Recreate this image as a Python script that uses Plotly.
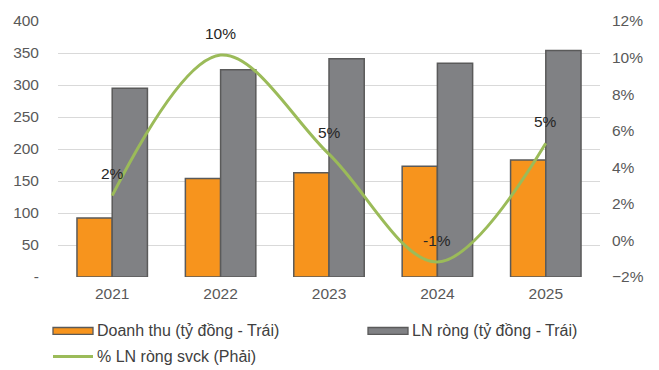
import plotly.graph_objects as go

# Chart data
years = ["2021", "2022", "2023", "2024", "2025"]
revenue = [92, 154, 163, 173, 183]          # Doanh thu (tỷ đồng)
net_profit = [295, 324, 341, 334, 354]      # LN ròng (tỷ đồng)
profit_growth = [0.0245, 0.1014, 0.0472, -0.0118, 0.0531]  # % LN ròng svck

left_ticks = [0, 50, 100, 150, 200, 250, 300, 350, 400]
left_ticktext = ["-" if v == 0 else str(v) for v in left_ticks]

FONT = "Liberation Sans, Arial, sans-serif"
ORANGE = "#F7941D"
GREY = "#808184"
EDGE = "#5A5A5A"
GREEN = "#9BBB59"
TXT = "#595959"
TICK_SIZE = 15.5

W, H = 659, 370
M_L, M_R, M_T, M_B = 58, 59, 16, 93
PW, PH = W - M_L - M_R, H - M_T - M_B


def px_x(p):
    return (p - M_L) / PW


def px_y(p):
    return (H - M_B - p) / PH


fig = go.Figure()
fig.add_trace(go.Bar(
    x=years, y=revenue, name="Doanh thu (tỷ đồng - Trái)",
    marker=dict(color=ORANGE, line=dict(color=EDGE, width=1.5)),
    showlegend=False,
))
fig.add_trace(go.Bar(
    x=years, y=net_profit, name="LN ròng (tỷ đồng - Trái)",
    marker=dict(color=GREY, line=dict(color=EDGE, width=1.5)),
    showlegend=False,
))
fig.add_trace(go.Scatter(
    x=years, y=profit_growth, yaxis="y2", mode="lines",
    name="% LN ròng svck (Phải)",
    line=dict(color=GREEN, width=3, shape="spline", smoothing=1.0),
    cliponaxis=False, showlegend=False,
))

# value labels above the growth line (category index as x position)
annotations = []
for i, v in enumerate(profit_growth):
    annotations.append(dict(
        x=i, y=v, xref="x", yref="y2", text=f"{v:.0%}",
        showarrow=False, yshift=22, yanchor="middle",
        font=dict(family=FONT, size=15.5, color="#262626"),
    ))

# legend drawn below the plot area
shapes = []
legend_items = [
    (53, 332, "bar", ORANGE, "Doanh thu (tỷ đồng - Trái)"),
    (368, 332, "bar", GREY, "LN ròng (tỷ đồng - Trái)"),
    (53, 358, "line", GREEN, "% LN ròng svck (Phải)"),
]
for x0, yc, kind, col, label in legend_items:
    if kind == "bar":
        shapes.append(dict(
            type="rect", xref="paper", yref="paper",
            x0=px_x(x0), x1=px_x(x0 + 40), y0=px_y(yc + 3.5), y1=px_y(yc - 3.5),
            fillcolor=col, line=dict(color=EDGE, width=1.3), layer="above",
        ))
    else:
        shapes.append(dict(
            type="line", xref="paper", yref="paper",
            x0=px_x(x0), x1=px_x(x0 + 40), y0=px_y(yc), y1=px_y(yc),
            line=dict(color=col, width=3), layer="above",
        ))
    annotations.append(dict(
        x=px_x(x0 + 42), y=px_y(yc), xref="paper", yref="paper",
        text=label, showarrow=False, xanchor="left", yanchor="middle",
        font=dict(family=FONT, size=16, color="#404040"),
    ))

fig.update_layout(
    width=W, height=H,
    margin=dict(l=M_L, r=M_R, t=M_T, b=M_B),
    paper_bgcolor="white", plot_bgcolor="white",
    barmode="group", bargap=0.35, bargroupgap=0,
    font=dict(family=FONT, size=TICK_SIZE, color=TXT),
    xaxis=dict(
        type="category", range=[-0.5, len(years) - 0.5],
        showgrid=False, showline=False, ticks="",
        tickfont=dict(family=FONT, size=TICK_SIZE, color=TXT),
        ticklabelstandoff=5,
    ),
    yaxis=dict(
        range=[0, 400], tickvals=left_ticks, ticktext=left_ticktext,
        showgrid=True, gridcolor="#D9D9D9", gridwidth=1.3,
        zeroline=False, showline=False, ticks="",
        tickfont=dict(family=FONT, size=TICK_SIZE, color=TXT),
        ticklabelstandoff=18,
    ),
    yaxis2=dict(
        overlaying="y", side="right", range=[-0.02, 0.12], dtick=0.02,
        tick0=0, tickformat=".0%", showgrid=False, zeroline=False,
        showline=False, ticks="",
        tickfont=dict(family=FONT, size=TICK_SIZE, color=TXT),
        ticklabelstandoff=11,
    ),
    annotations=annotations,
    shapes=shapes,
    showlegend=False,
)

fig.write_html("out.html")
